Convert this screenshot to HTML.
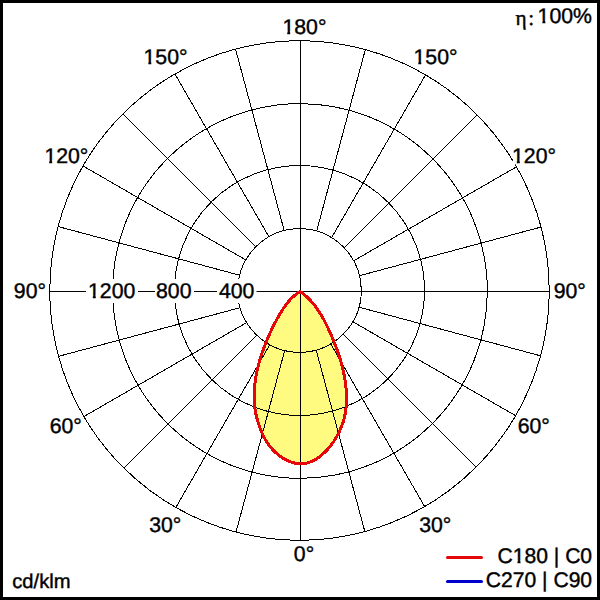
<!DOCTYPE html>
<html><head><meta charset="utf-8"><title>Polar light distribution</title><style>
html,body{margin:0;padding:0;background:#fff;}
body{width:600px;height:600px;overflow:hidden;}
svg{display:block;}
text{fill:#000;stroke:#000;stroke-width:0.4px;text-rendering:geometricPrecision;font-kerning:none;}
text.t{font-family:"Liberation Sans",sans-serif;}
text.s{font-family:"Liberation Serif",serif;}
</style></head><body>
<svg width="600" height="600" viewBox="0 0 600 600">
<rect x="0" y="0" width="600" height="600" fill="#fff"/>
<path d="M300.20,291.50 L299.31,292.04 L298.43,292.60 L297.57,293.19 L296.73,293.79 L295.91,294.41 L295.11,295.06 L294.32,295.72 L293.54,296.39 L292.78,297.09 L292.04,297.80 L291.31,298.52 L290.60,299.26 L289.90,300.02 L289.21,300.79 L288.54,301.57 L287.88,302.36 L287.23,303.17 L286.59,303.98 L285.96,304.81 L285.34,305.65 L284.74,306.49 L284.14,307.34 L283.55,308.21 L282.98,309.08 L282.41,309.95 L281.84,310.83 L281.29,311.72 L280.74,312.61 L280.20,313.51 L279.67,314.41 L279.14,315.31 L278.62,316.21 L278.10,317.12 L277.59,318.02 L277.08,318.93 L276.58,319.85 L276.09,320.76 L275.60,321.68 L275.11,322.60 L274.63,323.52 L274.15,324.44 L273.68,325.37 L273.22,326.30 L272.76,327.23 L272.30,328.16 L271.85,329.09 L271.40,330.03 L270.96,330.97 L270.52,331.91 L270.09,332.85 L269.66,333.80 L269.24,334.75 L268.82,335.70 L268.40,336.65 L267.99,337.60 L267.59,338.56 L267.18,339.52 L266.78,340.48 L266.39,341.44 L266.00,342.41 L265.61,343.37 L265.23,344.34 L264.85,345.31 L264.48,346.29 L264.11,347.26 L263.75,348.24 L263.39,349.22 L263.04,350.20 L262.69,351.18 L262.35,352.17 L262.01,353.16 L261.68,354.15 L261.35,355.14 L261.03,356.13 L260.72,357.12 L260.41,358.12 L260.11,359.12 L259.81,360.12 L259.52,361.12 L259.24,362.12 L258.96,363.12 L258.69,364.13 L258.43,365.13 L258.17,366.14 L257.92,367.15 L257.67,368.16 L257.44,369.18 L257.21,370.19 L256.99,371.21 L256.77,372.22 L256.57,373.24 L256.37,374.26 L256.18,375.28 L255.99,376.30 L255.82,377.33 L255.65,378.35 L255.49,379.37 L255.34,380.40 L255.20,381.43 L255.06,382.46 L254.94,383.48 L254.82,384.51 L254.71,385.55 L254.61,386.58 L254.52,387.61 L254.44,388.64 L254.37,389.68 L254.31,390.71 L254.26,391.75 L254.22,392.79 L254.18,393.82 L254.16,394.86 L254.14,395.90 L254.14,396.94 L254.15,397.98 L254.17,399.02 L254.20,400.06 L254.24,401.10 L254.29,402.14 L254.35,403.18 L254.43,404.22 L254.52,405.25 L254.62,406.29 L254.74,407.32 L254.87,408.36 L255.02,409.39 L255.18,410.42 L255.36,411.44 L255.55,412.47 L255.76,413.49 L255.98,414.51 L256.21,415.52 L256.46,416.54 L256.72,417.55 L256.99,418.55 L257.27,419.56 L257.56,420.56 L257.86,421.56 L258.18,422.56 L258.50,423.55 L258.82,424.54 L259.16,425.52 L259.50,426.51 L259.85,427.48 L260.21,428.46 L260.58,429.43 L260.95,430.39 L261.34,431.35 L261.73,432.31 L262.14,433.26 L262.56,434.20 L262.99,435.13 L263.43,436.06 L263.89,436.98 L264.36,437.89 L264.85,438.79 L265.35,439.68 L265.87,440.56 L266.41,441.43 L266.96,442.29 L267.53,443.15 L268.12,443.99 L268.72,444.82 L269.35,445.65 L269.98,446.46 L270.64,447.27 L271.31,448.06 L271.99,448.85 L272.70,449.62 L273.42,450.38 L274.15,451.13 L274.90,451.87 L275.66,452.59 L276.44,453.29 L277.23,453.98 L278.04,454.66 L278.87,455.31 L279.70,455.95 L280.55,456.57 L281.42,457.17 L282.30,457.75 L283.19,458.31 L284.10,458.84 L285.01,459.36 L285.95,459.85 L286.89,460.31 L287.84,460.75 L288.81,461.17 L289.78,461.56 L290.77,461.92 L291.76,462.25 L292.75,462.55 L293.75,462.82 L294.76,463.05 L295.77,463.26 L296.78,463.43 L297.80,463.56 L298.81,463.66 L299.82,463.73 L300.84,463.75 L301.85,463.74 L302.85,463.69 L303.86,463.59 L304.86,463.46 L305.85,463.28 L306.83,463.06 L307.81,462.80 L308.78,462.51 L309.75,462.18 L310.70,461.81 L311.65,461.41 L312.59,460.98 L313.52,460.51 L314.44,460.02 L315.35,459.50 L316.25,458.96 L317.14,458.39 L318.01,457.79 L318.88,457.18 L319.73,456.55 L320.57,455.89 L321.40,455.22 L322.21,454.53 L323.01,453.83 L323.79,453.12 L324.56,452.39 L325.32,451.66 L326.06,450.91 L326.79,450.16 L327.50,449.39 L328.20,448.61 L328.88,447.83 L329.55,447.03 L330.21,446.23 L330.85,445.42 L331.48,444.60 L332.10,443.77 L332.70,442.93 L333.29,442.08 L333.87,441.22 L334.44,440.36 L334.99,439.49 L335.53,438.61 L336.06,437.73 L336.58,436.84 L337.09,435.94 L337.58,435.03 L338.07,434.12 L338.54,433.20 L339.00,432.28 L339.44,431.35 L339.88,430.41 L340.30,429.47 L340.71,428.52 L341.10,427.57 L341.49,426.61 L341.86,425.65 L342.21,424.68 L342.55,423.70 L342.88,422.72 L343.20,421.74 L343.50,420.75 L343.78,419.76 L344.05,418.76 L344.31,417.75 L344.55,416.75 L344.78,415.74 L344.99,414.72 L345.19,413.70 L345.37,412.68 L345.54,411.66 L345.69,410.63 L345.83,409.60 L345.95,408.56 L346.07,407.53 L346.17,406.49 L346.25,405.45 L346.33,404.40 L346.39,403.36 L346.44,402.32 L346.47,401.27 L346.50,400.22 L346.51,399.17 L346.52,398.13 L346.51,397.08 L346.49,396.03 L346.46,394.98 L346.42,393.93 L346.37,392.89 L346.31,391.84 L346.24,390.80 L346.17,389.75 L346.08,388.71 L345.98,387.67 L345.88,386.64 L345.77,385.60 L345.64,384.57 L345.51,383.53 L345.38,382.50 L345.23,381.48 L345.08,380.45 L344.92,379.43 L344.75,378.40 L344.57,377.38 L344.38,376.36 L344.19,375.35 L343.99,374.33 L343.79,373.32 L343.57,372.30 L343.35,371.29 L343.12,370.29 L342.89,369.28 L342.65,368.27 L342.40,367.27 L342.14,366.27 L341.88,365.27 L341.61,364.27 L341.34,363.27 L341.06,362.28 L340.77,361.28 L340.48,360.29 L340.18,359.30 L339.88,358.31 L339.57,357.32 L339.25,356.33 L338.93,355.35 L338.61,354.36 L338.28,353.38 L337.94,352.40 L337.60,351.42 L337.25,350.44 L336.90,349.46 L336.54,348.48 L336.18,347.51 L335.82,346.54 L335.45,345.56 L335.07,344.59 L334.69,343.62 L334.31,342.65 L333.92,341.68 L333.53,340.72 L333.14,339.75 L332.74,338.79 L332.34,337.82 L331.93,336.86 L331.52,335.90 L331.11,334.94 L330.69,333.98 L330.27,333.02 L329.85,332.06 L329.42,331.11 L328.99,330.15 L328.56,329.20 L328.12,328.25 L327.67,327.30 L327.22,326.36 L326.77,325.42 L326.31,324.48 L325.84,323.55 L325.37,322.62 L324.89,321.69 L324.41,320.77 L323.92,319.85 L323.42,318.93 L322.92,318.02 L322.41,317.12 L321.89,316.22 L321.36,315.33 L320.83,314.44 L320.29,313.56 L319.74,312.68 L319.18,311.81 L318.61,310.94 L318.04,310.09 L317.46,309.24 L316.86,308.39 L316.26,307.56 L315.65,306.73 L315.03,305.91 L314.39,305.10 L313.75,304.30 L313.10,303.50 L312.44,302.71 L311.76,301.94 L311.08,301.17 L310.38,300.41 L309.67,299.66 L308.95,298.92 L308.22,298.19 L307.48,297.47 L306.72,296.76 L305.95,296.07 L305.17,295.38 L304.37,294.70 L303.57,294.04 L302.75,293.39 L301.91,292.75 L301.06,292.12 L300.20,291.50 Z" fill="#fffa80" stroke="none" shape-rendering="crispEdges"/>
<g fill="none" stroke="#000" stroke-width="1" shape-rendering="crispEdges">
<circle cx="299.50" cy="290.50" r="61.80"/>
<circle cx="299.50" cy="290.50" r="125.00"/>
<circle cx="300.00" cy="291.00" r="187.35"/>
<circle cx="299.50" cy="290.50" r="249.72"/>
<line x1="316.23" y1="350.20" x2="364.97" y2="532.09"/>
<line x1="330.82" y1="344.01" x2="424.97" y2="507.08"/>
<line x1="343.34" y1="334.34" x2="476.49" y2="467.49"/>
<line x1="353.01" y1="321.82" x2="516.08" y2="415.97"/>
<line x1="359.20" y1="307.23" x2="541.09" y2="355.97"/>
<line x1="359.69" y1="275.64" x2="541.59" y2="226.90"/>
<line x1="353.86" y1="260.69" x2="516.95" y2="166.53"/>
<line x1="344.33" y1="247.67" x2="477.49" y2="114.51"/>
<line x1="331.68" y1="237.50" x2="425.83" y2="74.42"/>
<line x1="316.73" y1="230.94" x2="365.46" y2="49.05"/>
<line x1="284.14" y1="230.43" x2="235.40" y2="48.55"/>
<line x1="268.82" y1="236.62" x2="174.67" y2="73.55"/>
<line x1="255.66" y1="246.66" x2="122.51" y2="113.51"/>
<line x1="245.62" y1="259.82" x2="82.55" y2="165.67"/>
<line x1="239.43" y1="275.14" x2="57.55" y2="226.40"/>
<line x1="239.94" y1="307.73" x2="58.05" y2="356.46"/>
<line x1="246.50" y1="322.68" x2="83.42" y2="416.83"/>
<line x1="256.67" y1="335.33" x2="123.51" y2="468.49"/>
<line x1="269.69" y1="344.86" x2="175.53" y2="507.95"/>
<line x1="284.64" y1="350.69" x2="235.90" y2="532.59"/>
<line x1="300.5" y1="40" x2="300.5" y2="541"/>
<line x1="49" y1="291.5" x2="550" y2="291.5"/>
</g>
<path d="M300.20,291.50 L299.31,292.04 L298.43,292.60 L297.57,293.19 L296.73,293.79 L295.91,294.41 L295.11,295.06 L294.32,295.72 L293.54,296.39 L292.78,297.09 L292.04,297.80 L291.31,298.52 L290.60,299.26 L289.90,300.02 L289.21,300.79 L288.54,301.57 L287.88,302.36 L287.23,303.17 L286.59,303.98 L285.96,304.81 L285.34,305.65 L284.74,306.49 L284.14,307.34 L283.55,308.21 L282.98,309.08 L282.41,309.95 L281.84,310.83 L281.29,311.72 L280.74,312.61 L280.20,313.51 L279.67,314.41 L279.14,315.31 L278.62,316.21 L278.10,317.12 L277.59,318.02 L277.08,318.93 L276.58,319.85 L276.09,320.76 L275.60,321.68 L275.11,322.60 L274.63,323.52 L274.15,324.44 L273.68,325.37 L273.22,326.30 L272.76,327.23 L272.30,328.16 L271.85,329.09 L271.40,330.03 L270.96,330.97 L270.52,331.91 L270.09,332.85 L269.66,333.80 L269.24,334.75 L268.82,335.70 L268.40,336.65 L267.99,337.60 L267.59,338.56 L267.18,339.52 L266.78,340.48 L266.39,341.44 L266.00,342.41 L265.61,343.37 L265.23,344.34 L264.85,345.31 L264.48,346.29 L264.11,347.26 L263.75,348.24 L263.39,349.22 L263.04,350.20 L262.69,351.18 L262.35,352.17 L262.01,353.16 L261.68,354.15 L261.35,355.14 L261.03,356.13 L260.72,357.12 L260.41,358.12 L260.11,359.12 L259.81,360.12 L259.52,361.12 L259.24,362.12 L258.96,363.12 L258.69,364.13 L258.43,365.13 L258.17,366.14 L257.92,367.15 L257.67,368.16 L257.44,369.18 L257.21,370.19 L256.99,371.21 L256.77,372.22 L256.57,373.24 L256.37,374.26 L256.18,375.28 L255.99,376.30 L255.82,377.33 L255.65,378.35 L255.49,379.37 L255.34,380.40 L255.20,381.43 L255.06,382.46 L254.94,383.48 L254.82,384.51 L254.71,385.55 L254.61,386.58 L254.52,387.61 L254.44,388.64 L254.37,389.68 L254.31,390.71 L254.26,391.75 L254.22,392.79 L254.18,393.82 L254.16,394.86 L254.14,395.90 L254.14,396.94 L254.15,397.98 L254.17,399.02 L254.20,400.06 L254.24,401.10 L254.29,402.14 L254.35,403.18 L254.43,404.22 L254.52,405.25 L254.62,406.29 L254.74,407.32 L254.87,408.36 L255.02,409.39 L255.18,410.42 L255.36,411.44 L255.55,412.47 L255.76,413.49 L255.98,414.51 L256.21,415.52 L256.46,416.54 L256.72,417.55 L256.99,418.55 L257.27,419.56 L257.56,420.56 L257.86,421.56 L258.18,422.56 L258.50,423.55 L258.82,424.54 L259.16,425.52 L259.50,426.51 L259.85,427.48 L260.21,428.46 L260.58,429.43 L260.95,430.39 L261.34,431.35 L261.73,432.31 L262.14,433.26 L262.56,434.20 L262.99,435.13 L263.43,436.06 L263.89,436.98 L264.36,437.89 L264.85,438.79 L265.35,439.68 L265.87,440.56 L266.41,441.43 L266.96,442.29 L267.53,443.15 L268.12,443.99 L268.72,444.82 L269.35,445.65 L269.98,446.46 L270.64,447.27 L271.31,448.06 L271.99,448.85 L272.70,449.62 L273.42,450.38 L274.15,451.13 L274.90,451.87 L275.66,452.59 L276.44,453.29 L277.23,453.98 L278.04,454.66 L278.87,455.31 L279.70,455.95 L280.55,456.57 L281.42,457.17 L282.30,457.75 L283.19,458.31 L284.10,458.84 L285.01,459.36 L285.95,459.85 L286.89,460.31 L287.84,460.75 L288.81,461.17 L289.78,461.56 L290.77,461.92 L291.76,462.25 L292.75,462.55 L293.75,462.82 L294.76,463.05 L295.77,463.26 L296.78,463.43 L297.80,463.56 L298.81,463.66 L299.82,463.73 L300.84,463.75 L301.85,463.74 L302.85,463.69 L303.86,463.59 L304.86,463.46 L305.85,463.28 L306.83,463.06 L307.81,462.80 L308.78,462.51 L309.75,462.18 L310.70,461.81 L311.65,461.41 L312.59,460.98 L313.52,460.51 L314.44,460.02 L315.35,459.50 L316.25,458.96 L317.14,458.39 L318.01,457.79 L318.88,457.18 L319.73,456.55 L320.57,455.89 L321.40,455.22 L322.21,454.53 L323.01,453.83 L323.79,453.12 L324.56,452.39 L325.32,451.66 L326.06,450.91 L326.79,450.16 L327.50,449.39 L328.20,448.61 L328.88,447.83 L329.55,447.03 L330.21,446.23 L330.85,445.42 L331.48,444.60 L332.10,443.77 L332.70,442.93 L333.29,442.08 L333.87,441.22 L334.44,440.36 L334.99,439.49 L335.53,438.61 L336.06,437.73 L336.58,436.84 L337.09,435.94 L337.58,435.03 L338.07,434.12 L338.54,433.20 L339.00,432.28 L339.44,431.35 L339.88,430.41 L340.30,429.47 L340.71,428.52 L341.10,427.57 L341.49,426.61 L341.86,425.65 L342.21,424.68 L342.55,423.70 L342.88,422.72 L343.20,421.74 L343.50,420.75 L343.78,419.76 L344.05,418.76 L344.31,417.75 L344.55,416.75 L344.78,415.74 L344.99,414.72 L345.19,413.70 L345.37,412.68 L345.54,411.66 L345.69,410.63 L345.83,409.60 L345.95,408.56 L346.07,407.53 L346.17,406.49 L346.25,405.45 L346.33,404.40 L346.39,403.36 L346.44,402.32 L346.47,401.27 L346.50,400.22 L346.51,399.17 L346.52,398.13 L346.51,397.08 L346.49,396.03 L346.46,394.98 L346.42,393.93 L346.37,392.89 L346.31,391.84 L346.24,390.80 L346.17,389.75 L346.08,388.71 L345.98,387.67 L345.88,386.64 L345.77,385.60 L345.64,384.57 L345.51,383.53 L345.38,382.50 L345.23,381.48 L345.08,380.45 L344.92,379.43 L344.75,378.40 L344.57,377.38 L344.38,376.36 L344.19,375.35 L343.99,374.33 L343.79,373.32 L343.57,372.30 L343.35,371.29 L343.12,370.29 L342.89,369.28 L342.65,368.27 L342.40,367.27 L342.14,366.27 L341.88,365.27 L341.61,364.27 L341.34,363.27 L341.06,362.28 L340.77,361.28 L340.48,360.29 L340.18,359.30 L339.88,358.31 L339.57,357.32 L339.25,356.33 L338.93,355.35 L338.61,354.36 L338.28,353.38 L337.94,352.40 L337.60,351.42 L337.25,350.44 L336.90,349.46 L336.54,348.48 L336.18,347.51 L335.82,346.54 L335.45,345.56 L335.07,344.59 L334.69,343.62 L334.31,342.65 L333.92,341.68 L333.53,340.72 L333.14,339.75 L332.74,338.79 L332.34,337.82 L331.93,336.86 L331.52,335.90 L331.11,334.94 L330.69,333.98 L330.27,333.02 L329.85,332.06 L329.42,331.11 L328.99,330.15 L328.56,329.20 L328.12,328.25 L327.67,327.30 L327.22,326.36 L326.77,325.42 L326.31,324.48 L325.84,323.55 L325.37,322.62 L324.89,321.69 L324.41,320.77 L323.92,319.85 L323.42,318.93 L322.92,318.02 L322.41,317.12 L321.89,316.22 L321.36,315.33 L320.83,314.44 L320.29,313.56 L319.74,312.68 L319.18,311.81 L318.61,310.94 L318.04,310.09 L317.46,309.24 L316.86,308.39 L316.26,307.56 L315.65,306.73 L315.03,305.91 L314.39,305.10 L313.75,304.30 L313.10,303.50 L312.44,302.71 L311.76,301.94 L311.08,301.17 L310.38,300.41 L309.67,299.66 L308.95,298.92 L308.22,298.19 L307.48,297.47 L306.72,296.76 L305.95,296.07 L305.17,295.38 L304.37,294.70 L303.57,294.04 L302.75,293.39 L301.91,292.75 L301.06,292.12 L300.20,291.50 Z" fill="none" stroke="#e4080a" stroke-width="3" stroke-linejoin="round" shape-rendering="crispEdges"/>
<rect x="86.0" y="279" width="52.0" height="24" fill="#fff"/>
<rect x="155.0" y="279" width="39.0" height="24" fill="#fff"/>
<rect x="217.0" y="279" width="39.5" height="24" fill="#fff"/>
<text class="t" x="282.44" y="33.69" font-size="21.25">180°</text>
<text class="t" x="143.51" y="63.82" font-size="21.25">150°</text>
<text class="t" x="413.51" y="63.82" font-size="21.25">150°</text>
<text class="t" x="44.39" y="162.92" font-size="21.25">120°</text>
<text class="t" x="512.04" y="162.92" font-size="21.25">120°</text>
<text class="t" x="13.82" y="297.77" font-size="21.25">90°</text>
<text class="t" x="553.72" y="297.77" font-size="21.25">90°</text>
<text class="t" x="49.63" y="432.77" font-size="21.25">60°</text>
<text class="t" x="517.73" y="432.77" font-size="21.25">60°</text>
<text class="t" x="149.17" y="531.74" font-size="21.25">30°</text>
<text class="t" x="419.17" y="531.74" font-size="21.25">30°</text>
<text class="t" x="293.87" y="561.37" font-size="21.25">0°</text>
<text class="t" x="88.01" y="297.67" font-size="21.25">1200</text>
<text class="t" x="156.03" y="297.67" font-size="21.25">800</text>
<text class="t" x="218.94" y="297.67" font-size="21.25">400</text>
<text class="t" x="537.61" y="22.75" font-size="21.25">100%</text>
<text class="s" x="515.42" y="24.65" font-size="21.25">η</text>
<text class="s" x="528.22" y="24.65" font-size="21.25">:</text>
<text class="t" x="12.28" y="587.87" font-size="20.20">cd/klm</text>
<text class="t" x="497.50" y="563.20" font-size="21.10">C180 | C0</text>
<text class="t" x="485.77" y="586.90" font-size="21.10">C270 | C90</text>
<g fill="#fff">
<rect x="283.16" y="31.10" width="4.07" height="3.99"/>
<rect x="290.21" y="31.10" width="3.91" height="3.99"/>
<rect x="144.23" y="61.23" width="4.07" height="3.99"/>
<rect x="151.29" y="61.23" width="3.91" height="3.99"/>
<rect x="414.23" y="61.23" width="4.07" height="3.99"/>
<rect x="421.29" y="61.23" width="3.91" height="3.99"/>
<rect x="45.11" y="160.33" width="4.07" height="3.99"/>
<rect x="52.16" y="160.33" width="3.91" height="3.99"/>
<rect x="512.76" y="160.33" width="4.07" height="3.99"/>
<rect x="519.81" y="160.33" width="3.91" height="3.99"/>
<rect x="88.73" y="295.08" width="4.07" height="3.99"/>
<rect x="95.78" y="295.08" width="3.91" height="3.99"/>
<rect x="538.33" y="20.16" width="4.07" height="3.99"/>
<rect x="545.38" y="20.16" width="3.91" height="3.99"/>
<rect x="513.45" y="560.62" width="4.05" height="3.98"/>
<rect x="520.46" y="560.62" width="3.88" height="3.98"/>
</g>
<line x1="447.5" y1="557.5" x2="481.5" y2="557.5" stroke="#e4080a" stroke-width="3" stroke-linecap="round"/>
<line x1="447.5" y1="581.5" x2="481.5" y2="581.5" stroke="#0000cc" stroke-width="3" stroke-linecap="round"/>
<rect x="1.5" y="1.5" width="597" height="597" fill="none" stroke="#000" stroke-width="3"/>
</svg>
</body></html>
